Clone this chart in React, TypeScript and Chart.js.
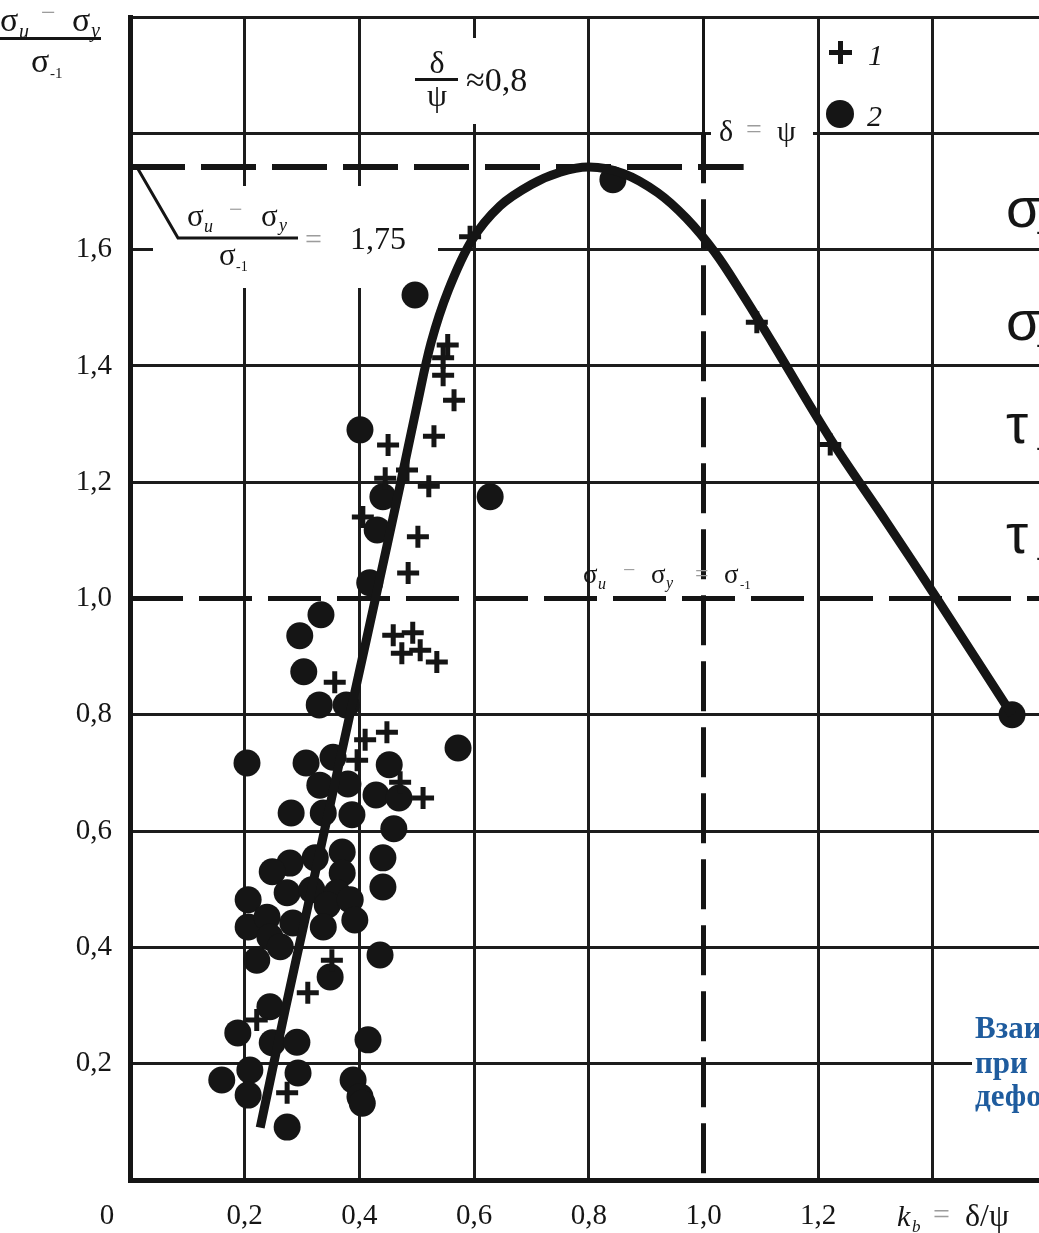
import React, { useEffect, useRef } from "react";
import { Chart, registerables } from "chart.js";

Chart.register(...registerables);

// ---------- data ----------
const xTickValues = [0.2, 0.4, 0.6, 0.8, 1.0, 1.2];
const xTickLabels = ["0,2", "0,4", "0,6", "0,8", "1,0", "1,2"];
const yTickValues = [0.2, 0.4, 0.6, 0.8, 1.0, 1.2, 1.4, 1.6];
const yTickLabels = ["0,2", "0,4", "0,6", "0,8", "1,0", "1,2", "1,4", "1,6"];

// series 1 (crosses)
const crossX = [0.593, 0.554, 0.546, 0.546, 0.565, 0.530, 0.450, 0.483, 0.445, 0.521, 0.406, 0.502, 0.485, 0.459, 0.493, 0.474, 0.506, 0.535, 0.357, 0.410, 0.448, 0.396, 0.471, 0.511, 0.352, 0.310, 0.221, 0.274, 1.093, 1.221];
const crossY = [1.622, 1.436, 1.414, 1.384, 1.341, 1.279, 1.264, 1.221, 1.207, 1.193, 1.140, 1.106, 1.044, 0.937, 0.941, 0.906, 0.911, 0.891, 0.856, 0.757, 0.770, 0.722, 0.684, 0.657, 0.378, 0.322, 0.275, 0.150, 1.475, 1.265];

// series 2 (dots)
const dotX = [0.497, 0.401, 0.628, 0.441, 0.431, 0.418, 0.333, 0.296, 0.303, 0.330, 0.377, 0.204, 0.572, 0.307, 0.354, 0.452, 0.331, 0.380, 0.429, 0.469, 0.281, 0.337, 0.387, 0.460, 0.370, 0.441, 0.323, 0.279, 0.370, 0.441, 0.248, 0.206, 0.274, 0.317, 0.361, 0.206, 0.239, 0.344, 0.384, 0.392, 0.337, 0.284, 0.244, 0.262, 0.221, 0.436, 0.349, 0.244, 0.188, 0.248, 0.291, 0.415, 0.209, 0.160, 0.206, 0.293, 0.389, 0.401, 0.405, 0.274, 0.842, 1.538];
const dotY = [1.522, 1.290, 1.175, 1.175, 1.118, 1.027, 0.972, 0.936, 0.874, 0.817, 0.817, 0.717, 0.743, 0.717, 0.727, 0.714, 0.679, 0.681, 0.662, 0.657, 0.631, 0.631, 0.628, 0.604, 0.564, 0.554, 0.554, 0.545, 0.528, 0.504, 0.530, 0.482, 0.494, 0.499, 0.494, 0.435, 0.452, 0.473, 0.482, 0.447, 0.435, 0.442, 0.418, 0.401, 0.378, 0.387, 0.349, 0.298, 0.253, 0.236, 0.237, 0.241, 0.189, 0.172, 0.146, 0.184, 0.172, 0.143, 0.132, 0.091, 1.720, 0.800];

// fitted curve
const curveX = [0.227, 0.27, 0.31, 0.35, 0.39, 0.428, 0.47, 0.50, 0.525, 0.555, 0.596, 0.645, 0.70, 0.75, 0.80, 0.86, 0.92, 0.97, 1.02, 1.07, 1.12, 1.221, 1.32, 1.407, 1.538];
const curveY = [0.09, 0.29, 0.47, 0.65, 0.83, 1.0, 1.19, 1.33, 1.44, 1.53, 1.616, 1.675, 1.712, 1.733, 1.742, 1.731, 1.698, 1.654, 1.595, 1.52, 1.44, 1.275, 1.13, 1.0, 0.80];

// reference lines
const peakLevelX = [0, 1.07];
const peakLevelY = [1.742, 1.742];
const unityKbX = [1.0, 1.0];
const unityKbY = [1.8, 0];
const unityKbTopY = [2.0, 1.8];
const unityRatioX = [0, 1.6];
const unityRatioY = [1.0, 1.0];

const X_MAX = 1.585;
const Y_MAX = 2.0;

// ---------- drawing helpers ----------
const SERIF = '"Liberation Serif", "DejaVu Serif", serif';
const SANS = '"Liberation Sans", Arial, sans-serif';
const INK = "#151515";
const GREY = "#9c9c9c";

type TextOpts = { italic?: boolean; bold?: boolean; color?: string; family?: string; align?: CanvasTextAlign; baseline?: CanvasTextBaseline };
function put(ctx: CanvasRenderingContext2D, s: string, x: number, y: number, size: number, o: TextOpts = {}) {
  ctx.font = `${o.italic ? "italic " : ""}${o.bold ? "bold " : ""}${size}px ${o.family || SERIF}`;
  ctx.fillStyle = o.color || INK;
  ctx.textAlign = o.align || "left";
  ctx.textBaseline = o.baseline || "alphabetic";
  ctx.fillText(s, x, y);
}

const pts = (xs: number[], ys: number[]) => xs.map((x, i) => ({ x, y: ys[i] }));

const gridColor = (c: any) => {
  const v = c.tick ? c.tick.value : null;
  if (v == null) return "rgba(0,0,0,0)";
  const k = Math.round(v * 5);
  if (Math.abs(v * 5 - k) > 1e-6 || k === 0 || k === 5) return "rgba(0,0,0,0)";
  return "#1c1c1c";
};

const paperPlugin = {
  id: "paper",
  beforeDatasetsDraw(chart: any) {
    const ctx = chart.ctx as CanvasRenderingContext2D;
    ctx.save();
    ctx.fillStyle = "#ffffff";
    ctx.fillRect(153, 186, 285, 102);
    ctx.fillRect(410, 38, 136, 86);
    ctx.fillRect(711, 119, 102, 28);
    ctx.fillRect(972, 1005, 67, 120);
    ctx.restore();
  },
  afterDraw(chart: any) {
    const ctx = chart.ctx as CanvasRenderingContext2D;
    const xs = chart.scales.x;
    const ys = chart.scales.y;
    ctx.save();
    // tick labels
    yTickValues.forEach((v, i) => put(ctx, yTickLabels[i], 112, ys.getPixelForValue(v), 29, { align: "right", baseline: "middle" }));
    xTickValues.forEach((v, i) => put(ctx, xTickLabels[i], xs.getPixelForValue(v), 1216, 29, { align: "center", baseline: "middle" }));
    put(ctx, "0", 107, 1216, 29, { align: "center", baseline: "middle" });

    // y axis title
    put(ctx, "σ", 0, 31, 34);
    put(ctx, "u", 19, 38, 20, { italic: true });
    put(ctx, "−", 41, 14, 26, { color: GREY, baseline: "middle" });
    put(ctx, "σ", 72, 31, 34);
    put(ctx, "y", 91, 37, 20, { italic: true });
    ctx.fillStyle = INK;
    ctx.fillRect(0, 37, 101, 3);
    put(ctx, "σ", 31, 72, 34);
    put(ctx, "-1", 50, 78, 15);

    // 1,75 annotation
    ctx.strokeStyle = INK;
    ctx.lineWidth = 3;
    ctx.beginPath();
    ctx.moveTo(138, 169);
    ctx.lineTo(178, 238);
    ctx.lineTo(298, 238);
    ctx.stroke();
    put(ctx, "σ", 187, 226, 31);
    put(ctx, "u", 204, 232, 18, { italic: true });
    put(ctx, "−", 229, 211, 24, { color: GREY, baseline: "middle" });
    put(ctx, "σ", 261, 226, 31);
    put(ctx, "y", 279, 231, 18, { italic: true });
    put(ctx, "σ", 219, 265, 31);
    put(ctx, "-1", 236, 271, 14);
    put(ctx, "=", 305, 241, 30, { color: GREY, baseline: "middle" });
    put(ctx, "1,75", 350, 241, 32, { baseline: "middle" });

    // delta/psi ~ 0,8
    put(ctx, "δ", 437, 73, 32, { align: "center" });
    ctx.fillStyle = INK;
    ctx.fillRect(415, 78, 43, 3);
    put(ctx, "ψ", 437, 106, 32, { align: "center" });
    put(ctx, "≈0,8", 466, 82, 34, { baseline: "middle" });

    // delta = psi
    put(ctx, "δ", 719, 141, 30);
    put(ctx, "=", 746, 131, 28, { color: GREY, baseline: "middle" });
    put(ctx, "ψ", 777, 141, 30);

    // legend
    ctx.fillStyle = INK;
    ctx.fillRect(829, 50, 23, 5);
    ctx.fillRect(838, 41, 5, 23);
    put(ctx, "1", 868, 65, 30, { italic: true });
    ctx.fillStyle = INK;
    ctx.beginPath();
    ctx.arc(840, 114, 14, 0, Math.PI * 2);
    ctx.fill();
    put(ctx, "2", 867, 126, 30, { italic: true });

    // sigma_u - sigma_y = sigma_-1 label
    put(ctx, "σ", 583, 583, 27);
    put(ctx, "u", 598, 589, 16, { italic: true });
    put(ctx, "−", 623, 571, 22, { color: GREY, baseline: "middle" });
    put(ctx, "σ", 651, 583, 27);
    put(ctx, "y", 666, 588, 16, { italic: true });
    put(ctx, "=", 695, 575, 24, { color: GREY, baseline: "middle" });
    put(ctx, "σ", 724, 583, 27);
    put(ctx, "-1", 740, 589, 13);

    // x axis name
    put(ctx, "k", 897, 1226, 30, { italic: true });
    put(ctx, "b", 912, 1232, 17, { italic: true });
    put(ctx, "=", 933, 1216, 30, { color: GREY, baseline: "middle" });
    put(ctx, "δ/ψ", 965, 1226, 32);

    // right side symbols (cut off)
    put(ctx, "σ", 1006, 227, 56, { family: SANS });
    put(ctx, "-1", 1036, 240, 28, { family: SANS });
    put(ctx, "σ", 1006, 340, 56, { family: SANS });
    put(ctx, "-1", 1036, 353, 28, { family: SANS });
    put(ctx, "τ", 1006, 443, 56, { family: SANS });
    put(ctx, "-1", 1036, 456, 28, { family: SANS });
    put(ctx, "τ", 1006, 553, 56, { family: SANS });
    put(ctx, "-1", 1036, 566, 28, { family: SANS });

    // blue caption (cut off)
    const blue = { bold: true, color: "#1f5c9e" };
    put(ctx, "Взаимосвязь", 975, 1038, 31, blue);
    put(ctx, "при", 975, 1073, 31, blue);
    put(ctx, "деформации", 975, 1106, 31, blue);
    ctx.restore();
  },
};

export default function App() {
  const ref = useRef<HTMLCanvasElement | null>(null);

  useEffect(() => {
    document.body.style.margin = "0";
    const canvas = ref.current;
    if (!canvas) return;
    const chart = new Chart(canvas, {
      type: "scatter",
      data: {
        datasets: [
          {
            type: "line",
            label: "curve",
            data: pts(curveX, curveY),
            borderColor: INK,
            borderWidth: 9,
            pointRadius: 0,
            tension: 0.35,
            borderCapStyle: "butt",
            borderJoinStyle: "round",
            fill: false,
          } as any,
          {
            label: "1",
            data: pts(crossX, crossY),
            pointStyle: "cross",
            pointRadius: 11,
            borderColor: INK,
            borderWidth: 5,
            backgroundColor: INK,
          },
          {
            label: "2",
            data: pts(dotX, dotY),
            pointStyle: "circle",
            pointRadius: 13.5,
            borderWidth: 0,
            backgroundColor: INK,
          },
          {
            type: "line",
            label: "peak",
            data: pts(peakLevelX, peakLevelY),
            borderColor: INK,
            borderWidth: 6,
            borderDash: [55, 16],
            pointRadius: 0,
          } as any,
          {
            type: "line",
            label: "kb=1",
            data: pts(unityKbX, unityKbY),
            borderColor: INK,
            borderWidth: 5,
            borderDash: [50, 16],
            pointRadius: 0,
          } as any,
          {
            type: "line",
            label: "kb=1 top",
            data: pts(unityKbX, unityKbTopY),
            borderColor: INK,
            borderWidth: 3,
            pointRadius: 0,
          } as any,
          {
            type: "line",
            label: "ratio=1",
            data: pts(unityRatioX, unityRatioY),
            borderColor: INK,
            borderWidth: 5,
            borderDash: [53, 16],
            pointRadius: 0,
          } as any,
        ],
      },
      options: {
        animation: false,
        responsive: false,
        devicePixelRatio: 1,
        layout: { autoPadding: false, padding: { top: 17, left: 0, right: 0, bottom: 0 } },
        plugins: { legend: { display: false }, tooltip: { enabled: false } },
        events: [],
        scales: {
          x: {
            type: "linear",
            min: 0,
            max: X_MAX,
            afterFit: (s: any) => { s.height = 53; },
            ticks: { display: false, stepSize: 0.2 },
            grid: { drawTicks: false, lineWidth: 3, color: gridColor },
            border: { display: true, width: 5, color: INK },
          },
          y: {
            type: "linear",
            min: 0,
            max: Y_MAX,
            afterFit: (s: any) => { s.width = 130; },
            ticks: { display: false, stepSize: 0.2 },
            grid: { drawTicks: false, lineWidth: 3, color: gridColor },
            border: { display: true, width: 5, color: INK },
          },
        },
      } as any,
      plugins: [paperPlugin],
    });
    return () => chart.destroy();
  }, []);

  return (
    <div style={{ width: 1039, height: 1233, background: "#fff" }}>
      <canvas ref={ref} width={1039} height={1233} style={{ display: "block" }} />
    </div>
  );
}
